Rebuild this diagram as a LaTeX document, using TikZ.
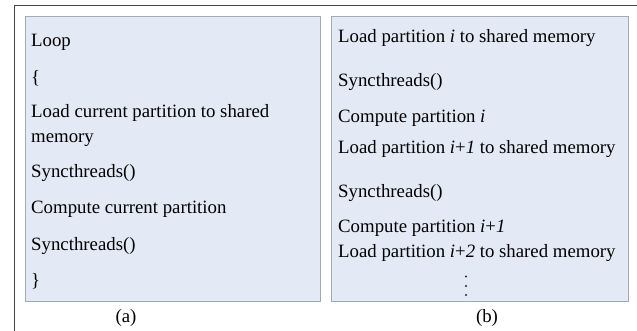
\documentclass[tikz,border=0pt]{standalone}
\usepackage{fontspec}
\setmainfont{Liberation Serif}
\definecolor{panelfill}{HTML}{E4EAF5}
\definecolor{paneldraw}{HTML}{A3ABB5}
\definecolor{framecol}{HTML}{444444}
\begin{document}
\begin{tikzpicture}[x=1pt,y=-1pt,
  txt/.style={anchor=base west,inner sep=0pt,font=\fontsize{18.8}{22}\selectfont},
  captxt/.style={anchor=center,inner sep=0pt,font=\fontsize{18.8}{22}\selectfont},
  vdot/.style={circle,fill=black!85,inner sep=0pt,minimum size=2.2pt},
  panel/.style={fill=panelfill,draw=paneldraw,line width=0.8pt}]
\useasboundingbox (0,0) rectangle (637,331);
\fill[white] (0,0) rectangle (637,331);
\draw[framecol,line width=1.2pt] (14.5,331) -- (14.5,5.5) -- (637,5.5);
\draw[panel] (25,16) rectangle (320,301);
\draw[panel] (331,16) rectangle (628,301);
% panel (a)
\node[txt] (a1) at (31,47) {Loop};
\node[txt] (a2) at (31,84) {\{};
\node[txt] (a3) at (31,118) {Load current partition to shared};
\node[txt] (a4) at (31,143) {memory};
\node[txt] (a5) at (31,178) {Syncthreads()};
\node[txt] (a6) at (31,214) {Compute current partition};
\node[txt] (a7) at (31,250) {Syncthreads()};
\node[txt] (a8) at (31,286) {\}};
% panel (b)
\node[txt] (b1) at (338,43) {Load partition \textit{i} to shared memory};
\node[txt] (b2) at (338,87) {Syncthreads()};
\node[txt] (b3) at (338,123) {Compute partition \textit{i}};
\node[txt] (b4) at (338,154) {Load partition \textit{i}+\textit{1} to shared memory};
\node[txt] (b5) at (338,197) {Syncthreads()};
\node[txt] (b6) at (338,233) {Compute partition \textit{i}+\textit{1}};
\node[txt] (b7) at (338,257) {Load partition \textit{i}+\textit{2} to shared memory};
\node[vdot] (d1) at (466,276.5) {};
\node[vdot] (d2) at (466,286) {};
\node[vdot] (d3) at (466,295) {};
% captions
\node[captxt] (ca) at (126,318) {(a)};
\node[captxt] (cb) at (487,318) {(b)};
\end{tikzpicture}
\end{document}
